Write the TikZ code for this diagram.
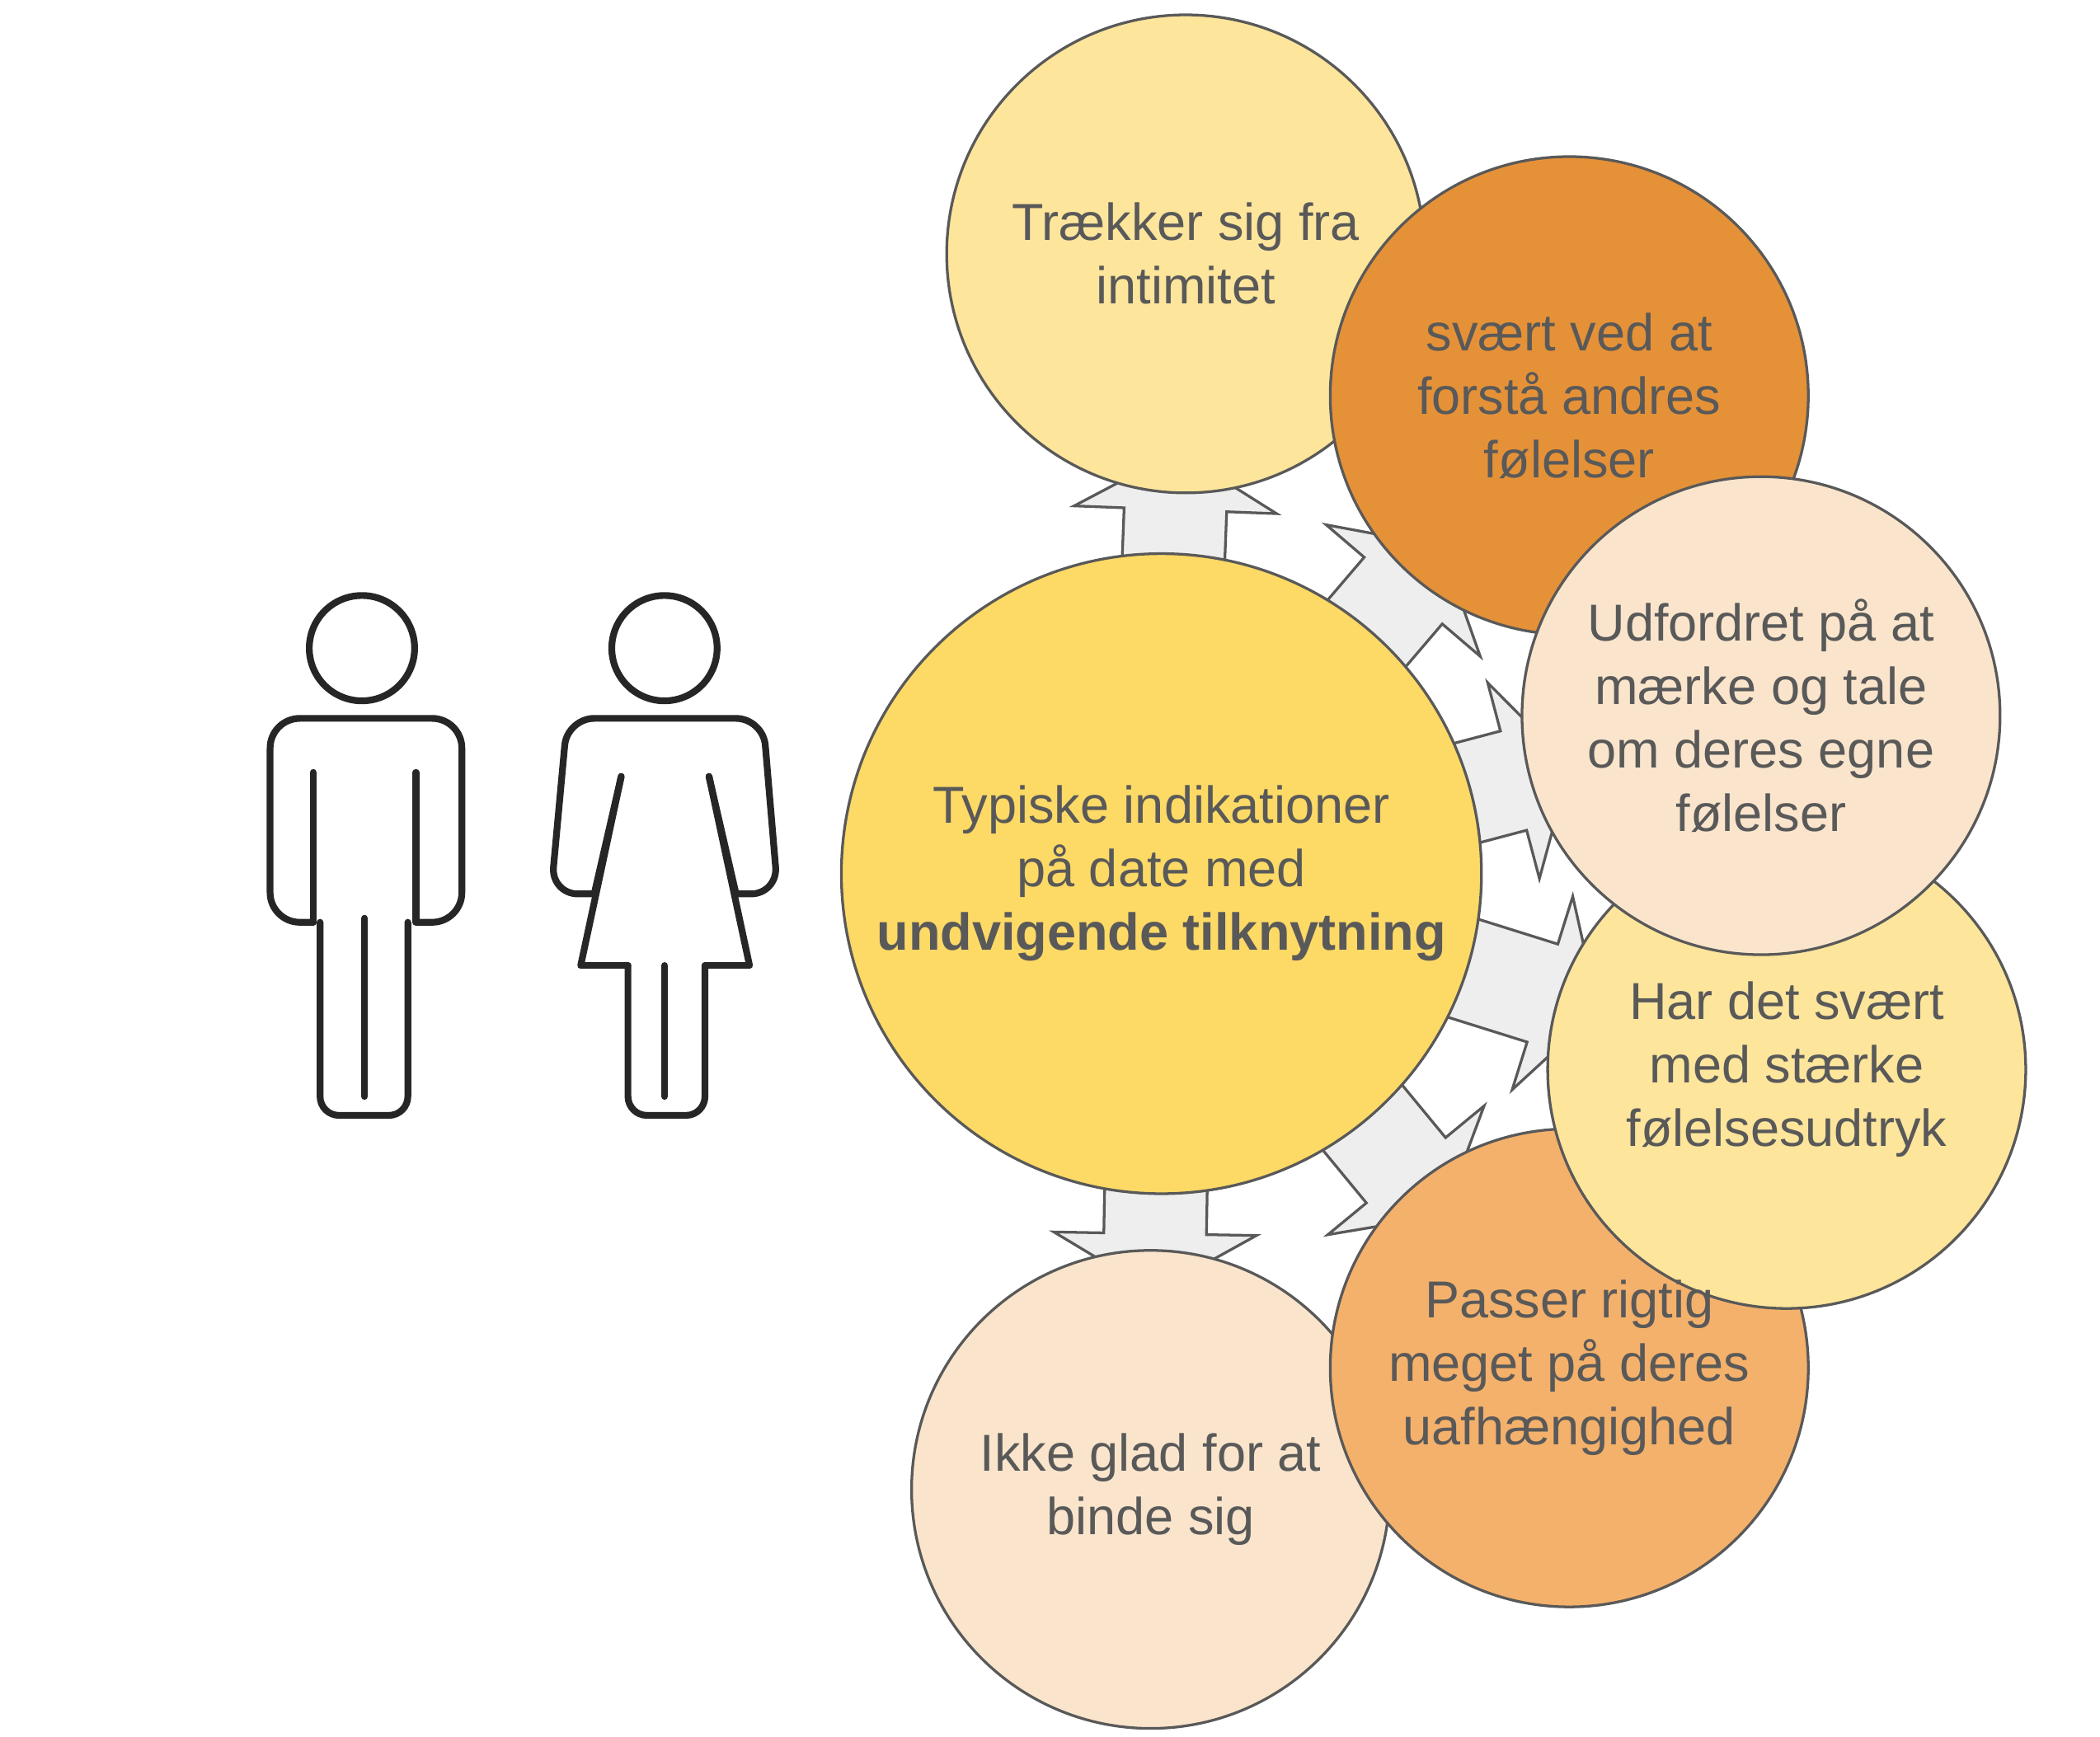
\documentclass[tikz,border=0pt]{standalone}
\usepackage{fontspec}
\setmainfont{Liberation Sans}
\usetikzlibrary{shapes.arrows}
\definecolor{txt}{HTML}{595959}
\definecolor{edge}{HTML}{595959}
\definecolor{arr}{HTML}{EEEEEE}
\definecolor{cTop}{HTML}{FDE59C}
\definecolor{cOr}{HTML}{E59138}
\definecolor{cPale}{HTML}{FAE5CC}
\definecolor{cMid}{HTML}{F4B16B}
\definecolor{cCen}{HTML}{FDD966}
\definecolor{icon}{HTML}{262626}
\begin{document}
\begin{tikzpicture}[x=1pt,y=-1pt,
  bub/.style={circle,draw=edge,line width=2pt,minimum size=354pt,inner sep=0pt,align=center,text=txt,font=\fontsize{38.5}{47}\selectfont},
  btxt/.style={align=center,text=txt,font=\fontsize{38.5}{47}\selectfont},
  arw/.style={single arrow,draw=edge,fill=arr,line width=2pt,single arrow head extend=37pt,single arrow tip angle=120,inner sep=0pt,anchor=tail},
  ic/.style={draw=icon,line width=5pt,line join=round,line cap=round}]
\useasboundingbox (0,0) rectangle (1555,1286);
\coordinate (c) at (860,647);
\node[arw,rotate=87.8,minimum height=312pt] (a1) at (c) {\rule{0pt}{74pt}};
\node[arw,rotate=49.5,minimum height=318pt] (a2) at (c) {\rule{0pt}{74pt}};
\node[arw,rotate=14.8,minimum height=312pt] (a3) at (c) {\rule{0pt}{74pt}};
\node[arw,rotate=-17.4,minimum height=338pt] (a4) at (c) {\rule{0pt}{74pt}};
\node[arw,rotate=-50.5,minimum height=327pt] (a5) at (c) {\rule{0pt}{74pt}};
\node[arw,rotate=-91.0,minimum height=309pt] (a6) at (c) {\rule{0pt}{74pt}};
\node[bub,fill=cTop] (t) at (878,188) {Trækker sig fra\\intimitet};
\node[bub,fill=cOr] (o) at (1162,293) {svært ved at\\forstå andres\\følelser};
\node[bub,fill=cPale] (i) at (852,1103) {Ikke glad for at\\binde sig};
\node[bub,fill=cMid] (p) at (1162,1013) {};
\node[bub,fill=cTop] (h) at (1323,792) {Har det svært\\med stærke\\følelsesudtryk};
\node[btxt] (pt) at (p.center) {Passer rigtig\\meget på deres\\uafhængighed};
\node[bub,fill=cPale] (u) at (1304,530) {Udfordret på at\\mærke og tale\\om deres egne\\følelser};
\node[bub,fill=cCen,minimum size=474pt] (m) at (c) {Typiske indikationer\\på date med\\\textbf{undvigende tilknytning}};
% man
\draw[ic] (268,480) circle (39);
\draw[ic,rounded corners=22pt] (232,683) -- (200,683) -- (200,532) -- (342,532) -- (342,683) -- (308,683);
\draw[ic] (232,683) -- (232,572);
\draw[ic] (308,683) -- (308,572);
\draw[ic,rounded corners=14pt] (237,683) -- (237,826) -- (270,826) -- (302,826) -- (302,683);
\draw[ic] (270,680) -- (270,812);
% woman
\draw[ic] (492,480) circle (39);
\draw[ic,rounded corners=20pt] (440,662) -- (408,662) -- (420,532) -- (565,532) -- (576,662) -- (545,662);
\draw[ic] (440,662) -- (460,575);
\draw[ic] (545,662) -- (525,575);
\draw[ic] (460,575) -- (430,715) -- (465,715);
\draw[ic] (525,575) -- (555,715) -- (522,715);
\draw[ic,rounded corners=14pt] (465,715) -- (465,826) -- (492,826) -- (522,826) -- (522,715);
\draw[ic] (492,715) -- (492,812);
\end{tikzpicture}
\end{document}
